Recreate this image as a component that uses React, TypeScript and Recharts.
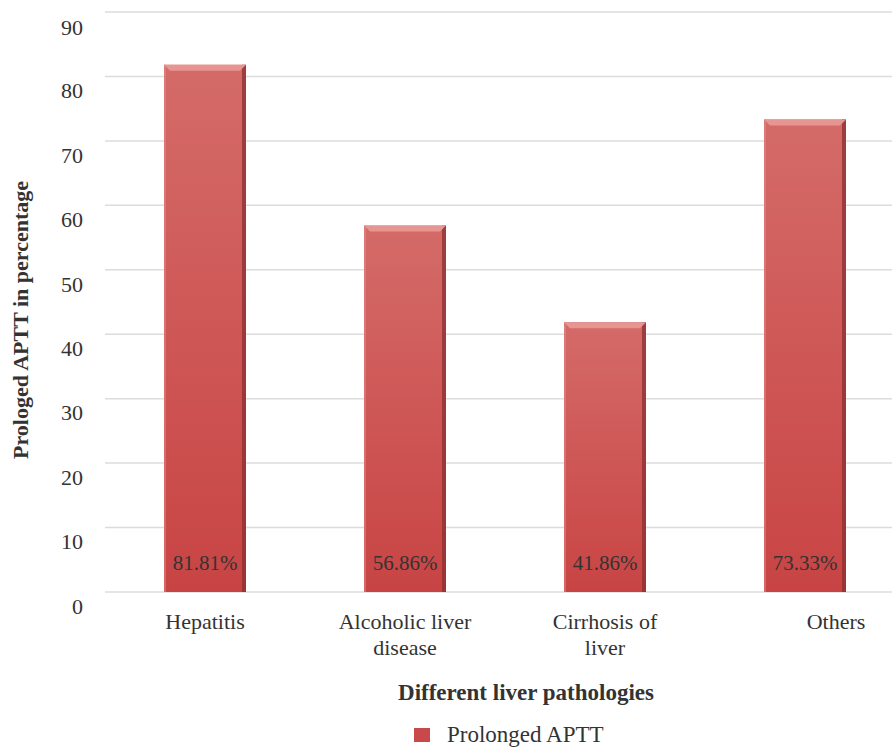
import React from 'react';
import { BarChart, Bar, XAxis, YAxis, CartesianGrid, LabelList, Legend } from 'recharts';

const categories = ['Hepatitis', 'Alcoholic liver disease', 'Cirrhosis of liver', 'Others'];
const prolongedAptt = [81.81, 56.86, 41.86, 73.33];
const yTicks = [0, 10, 20, 30, 40, 50, 60, 70, 80, 90];
const seriesName = 'Prolonged APTT';
const yTitle = 'Prologed APTT in percentage';
const xTitle = 'Different liver pathologies';

const data = categories.map((name, i) => ({ name, value: prolongedAptt[i] }));

const FONT = '"Liberation Serif", "DejaVu Serif", serif';
const TEXT = '#333333';

function wrapWords(label: string, max: number) {
  const lines: string[] = [];
  let cur = '';
  for (const w of label.split(' ')) {
    const next = cur ? cur + ' ' + w : w;
    if (next.length > max && cur) {
      lines.push(cur);
      cur = w;
    } else {
      cur = next;
    }
  }
  if (cur) lines.push(cur);
  return lines;
}

const CategoryTick = (props: any) => {
  const { x, y, payload, index } = props;
  const lines = wrapWords(payload.value, 15);
  // the last label sits a bit right of its bar in the original
  const shift = index === categories.length - 1 ? 31 : 0;
  return (
    <text x={x + shift} y={y} textAnchor="middle" fill={TEXT} fontFamily={FONT} fontSize={22}>
      {lines.map((l, i) => (
        <tspan key={i} x={x + shift} dy={i === 0 ? 35 : 26}>
          {l}
        </tspan>
      ))}
    </text>
  );
};

const BevelBar = (props: any) => {
  const { x, y, width, height } = props;
  if (!height || height <= 0) return null;
  const b = 6;
  return (
    <g>
      <rect x={x} y={y} width={width} height={height} fill="url(#barFill)" />
      <rect x={x + width - 4} y={y} width={4} height={height} fill="#8e2f2f" opacity={0.75} />
      <rect x={x} y={y} width={2} height={height} fill="#e48b87" opacity={0.5} />
      <polygon
        points={`${x},${y} ${x + width},${y} ${x + width - b},${y + b} ${x + b},${y + b}`}
        fill="#e69591"
      />
    </g>
  );
};

const LegendBox = () => (
  <div style={{ display: 'flex', alignItems: 'center', fontFamily: FONT, fontSize: 23, color: TEXT }}>
    <span style={{ width: 16, height: 14, background: '#c9494a', display: 'inline-block', marginRight: 17 }} />
    {seriesName}
  </div>
);

export default function App() {
  return (
    <div style={{ position: 'absolute', left: 0, top: 0, width: 892, height: 748, overflow: 'hidden', background: '#fff' }}>
      <BarChart
        width={920}
        height={748}
        data={data}
        margin={{ top: 12, right: 15, left: 0, bottom: 52 }}
      >
        <defs>
          <linearGradient id="barFill" x1="0" y1="0" x2="0" y2="1">
            <stop offset="0%" stopColor="#d46b68" />
            <stop offset="100%" stopColor="#c84444" />
          </linearGradient>
        </defs>
        <CartesianGrid vertical={false} stroke="#dcdcdc" strokeWidth={1.5} />
        <XAxis
          dataKey="name"
          axisLine={false}
          tickLine={false}
          tickSize={0}
          height={80}
          interval={0}
          tick={<CategoryTick />}
          label={{
            content: (p: any) => {
              const vb = p.viewBox;
              return (
                <text x={vb.x + vb.width / 2 + 21} y={vb.y + 108} textAnchor="middle" fill={TEXT} fontFamily={FONT} fontSize={23} fontWeight="bold">
                  {xTitle}
                </text>
              );
            },
          }}
        />
        <YAxis
          domain={[0, 90]}
          ticks={yTicks}
          width={105}
          axisLine={false}
          tickLine={false}
          tickSize={0}
          tickMargin={22}
          tick={{ fill: TEXT, fontFamily: FONT, fontSize: 22, dy: 14 }}
          label={{
            content: (p: any) => {
              const vb = p.viewBox;
              const cx = vb.x + 20;
              const cy = vb.y + vb.height / 2 + 18;
              return (
                <text x={cx} y={cy} transform={`rotate(-90, ${cx}, ${cy})`} textAnchor="middle" dominantBaseline="central" fill={TEXT} fontFamily={FONT} fontSize={22} fontWeight="bold">
                  {yTitle}
                </text>
              );
            },
          }}
        />
        <Legend
          verticalAlign="bottom"
          content={<LegendBox />}
          wrapperStyle={{ left: 414, width: 300, height: 24, bottom: 2 }}
        />
        <Bar dataKey="value" name={seriesName} barSize={82} shape={<BevelBar />} isAnimationActive={false}>
          <LabelList
            dataKey="value"
            position="insideBottom"
            offset={22}
            formatter={(v: any) => `${v}%`}
            style={{ fill: TEXT, fontFamily: FONT, fontSize: 21 }}
          />
        </Bar>
      </BarChart>
    </div>
  );
}
